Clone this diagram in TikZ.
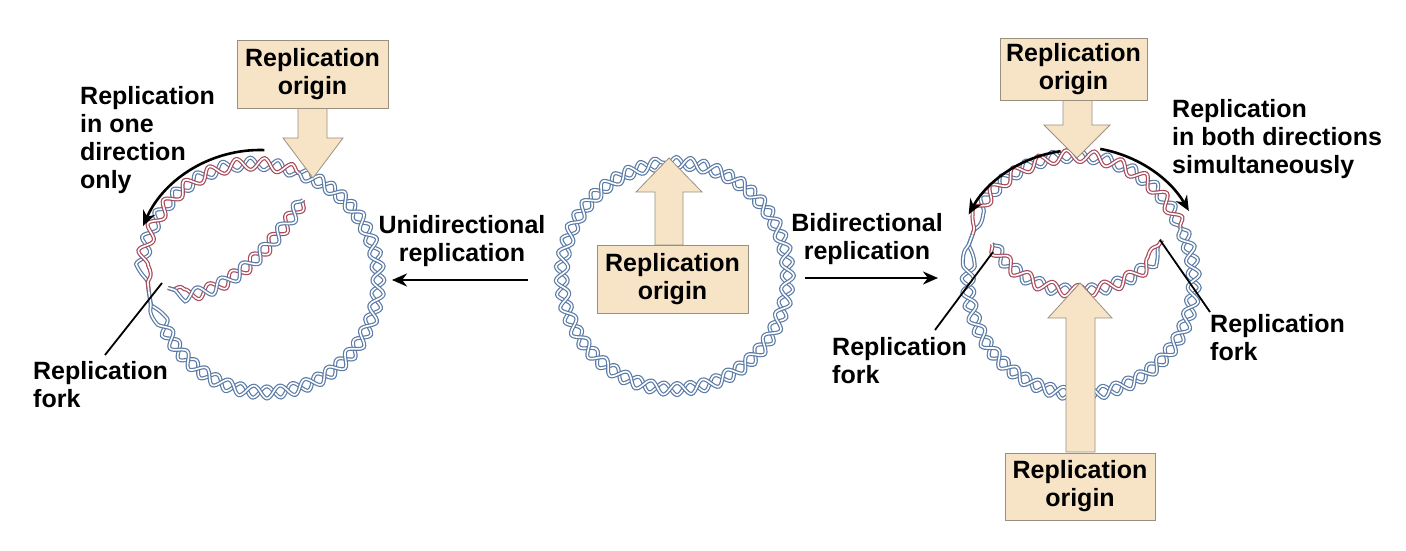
\documentclass[tikz,border=0pt]{standalone}
\usepackage{fontspec}
\setmainfont{Liberation Sans}
\usetikzlibrary{decorations.pathmorphing,arrows.meta}
\definecolor{dnab}{HTML}{5B7BA5}
\definecolor{dnar}{HTML}{A84A5A}
\definecolor{tan}{HTML}{F7E4C6}
\definecolor{tanb}{HTML}{9A9080}
\begin{document}
\begin{tikzpicture}[x=1pt,y=1pt,
  strand/.style={decorate,decoration={snake,segment length=27pt,amplitude=6pt},draw=#1,line width=1.2pt,double=white,double distance=1.6pt},
  strandm/.style={decorate,decoration={snake,segment length=27pt,amplitude=6pt,mirror},draw=#1,line width=1.2pt,double=white,double distance=1.6pt},
  lbl/.style={font=\fontsize{25}{28}\selectfont\bfseries,align=left,anchor=north west,inner sep=0pt},
  lblc/.style={font=\fontsize{25}{28}\selectfont\bfseries,align=center,inner sep=0pt},
  box/.style={fill=tan,draw=tanb,line width=0.8pt},
  blk/.style={fill=tan,draw=tanb,line width=0.8pt},
  arr/.style={line width=2.6pt,-{Stealth[length=15pt,width=13pt]}}]
\useasboundingbox (0,0) rectangle (1406,550);
% centres
\coordinate (L) at (260,272);
\coordinate (M) at (668,274);
\coordinate (R) at (1078,275);
% ---- middle circle
\draw[strand=dnab] (M) ++(90:113) arc[start angle=90,end angle=-270,radius=113];
\draw[strandm=dnab] (M) ++(90:113) arc[start angle=90,end angle=-270,radius=113];
% ---- left circle
\draw[strand=dnab] (L) ++(70:112) arc[start angle=70,end angle=-173,radius=112];
\draw[strandm=dnab] (L) ++(70:112) arc[start angle=70,end angle=-173,radius=112];
\draw[strand=dnab] (L) ++(70:112) arc[start angle=70,end angle=187,radius=112];
\draw[strandm=dnar] (L) ++(70:112) arc[start angle=70,end angle=187,radius=112];
\coordinate (Li1) at (303,350);
\coordinate (Li2) at (168,262);
\draw[strand=dnar] (Li1) .. controls (270,300) and (220,250) .. (Li2);
\draw[strandm=dnab] (Li1) .. controls (270,300) and (220,250) .. (Li2);
% ---- right circle
\draw[strand=dnab] (R) ++(25:113) arc[start angle=25,end angle=-201,radius=113];
\draw[strandm=dnab] (R) ++(25:113) arc[start angle=25,end angle=-201,radius=113];
\draw[strand=dnab] (R) ++(25:113) arc[start angle=25,end angle=159,radius=113];
\draw[strandm=dnar] (R) ++(25:113) arc[start angle=25,end angle=159,radius=113];
\coordinate (Ri1) at (992,306);
\coordinate (Ri2) at (1162,310);
\draw[strand=dnab] (Ri1) .. controls (1030,250) and (1120,250) .. (Ri2);
\draw[strandm=dnar] (Ri1) .. controls (1030,250) and (1120,250) .. (Ri2);
% ---- block arrows
\draw[blk] (298,443)--(327,443)--(327,412)--(343,412)--(313,372)--(283,412)--(298,412)--cycle;
\draw[blk] (655,305)--(683,305)--(683,358)--(702,358)--(669,392)--(636,358)--(655,358)--cycle;
\draw[blk] (1063,451)--(1092,451)--(1092,425)--(1110,425)--(1077,392)--(1044,425)--(1063,425)--cycle;
\draw[blk] (1066,98)--(1095,98)--(1095,232)--(1112,232)--(1080,267)--(1048,232)--(1066,232)--cycle;
% ---- boxes
\node[box,minimum width=151pt,minimum height=68pt,lblc] (b1) at (312.5,476) {Replication\\origin};
\node[box,minimum width=151pt,minimum height=68pt,lblc] (b2) at (672.5,271) {Replication\\origin};
\node[box,minimum width=147pt,minimum height=62pt,lblc] (b3) at (1073.5,481) {Replication\\origin};
\node[box,minimum width=150pt,minimum height=67pt,lblc] (b4) at (1080,63.5) {Replication\\origin};
% ---- labels
\node[lbl] (t1) at (80,464) {Replication\\in one\\direction\\only};
\node[lblc] (t2) at (462,309) {Unidirectional\\replication};
\node[lblc] (t3) at (867,311) {Bidirectional\\replication};
\node[lbl] (t4) at (33,189) {Replication\\fork};
\node[lbl] (t5) at (1172,451) {Replication\\in both directions\\simultaneously};
\node[lbl] (t6) at (832,213) {Replication\\fork};
\node[lbl] (t7) at (1210,236) {Replication\\fork};
% ---- arrows
\coordinate (u1) at (528,270); \coordinate (u2) at (392,270);
\draw[arr] (u1) -- (u2);
\coordinate (v1) at (805,272); \coordinate (v2) at (938,272);
\draw[arr] (v1) -- (v2);
\draw[arr] (L) ++(88:128) arc[start angle=88,end angle=156,radius=128];
\draw[arr] (R) ++(98:125) arc[start angle=98,end angle=151,radius=125];
\draw[arr] (R) ++(80:128) arc[start angle=80,end angle=30,radius=128];
% fork lines
\coordinate (f1a) at (105,195); \coordinate (f1b) at (162,267);
\draw[line width=1.8pt] (f1a) -- (f1b);
\coordinate (f2a) at (935,220); \coordinate (f2b) at (993,298);
\draw[line width=1.8pt] (f2a) -- (f2b);
\coordinate (f3a) at (1210,238); \coordinate (f3b) at (1160,310);
\draw[line width=1.8pt] (f3a) -- (f3b);
\end{tikzpicture}
\end{document}
